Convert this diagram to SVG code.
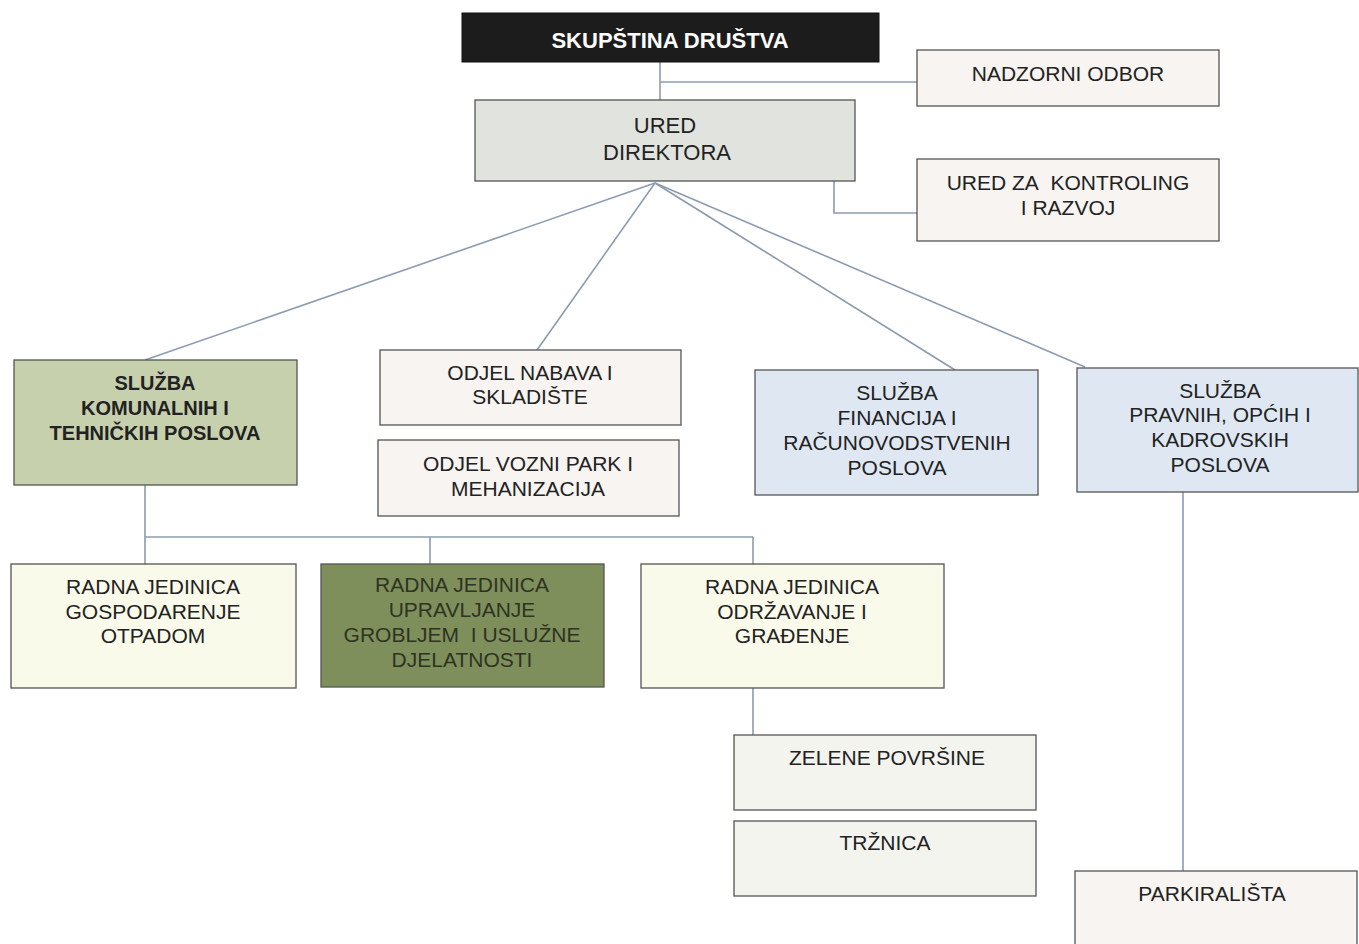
<svg xmlns="http://www.w3.org/2000/svg" width="1359" height="944" viewBox="0 0 1359 944">
<style>
  .box { stroke: #555; stroke-width: 1.3; }
  .w { fill: #f7f4f1; }
  .gray { fill: #e1e3de; }
  .olive { fill: #c7d0ad; }
  .dark { fill: #7e8f5c; }
  .blue { fill: #dfe8f2; }
  .cream { fill: #fafaea; }
  .pale { fill: #f4f4ef; }
  text { font-family: "Liberation Sans", Arial, sans-serif; font-size: 21px; fill: #222; text-anchor: middle; }
  .b { font-weight: bold; }
  .conn line, .conn polyline { stroke: #8c9bb0; stroke-width: 1.6; fill: none; }
</style>
<rect width="1359" height="944" fill="#ffffff"/>
<g class="conn" id="connectors">
  <line x1="660" y1="62" x2="660" y2="100"/>
  <line x1="660" y1="82" x2="917" y2="82"/>
  <polyline points="834,181 834,213 917,213"/>
  <line x1="655" y1="183" x2="145" y2="360"/>
  <line x1="655" y1="183" x2="537" y2="350"/>
  <line x1="655" y1="183" x2="955" y2="370"/>
  <line x1="655" y1="183" x2="1085" y2="367"/>
  <line x1="145" y1="485" x2="145" y2="564"/>
  <line x1="145" y1="537" x2="753" y2="537"/>
  <line x1="430" y1="537" x2="430" y2="564"/>
  <line x1="753" y1="537" x2="753" y2="564"/>
  <line x1="753" y1="688" x2="753" y2="735"/>
  <line x1="1183" y1="492" x2="1183" y2="871"/>
</g>
<g id="skupstina">
  <rect x="462" y="13" width="417" height="49" fill="#1c1c1c" stroke="#111"/>
  <text x="670" y="48" class="b" style="fill:#fff;font-size:22px">SKUPŠTINA DRUŠTVA</text>
</g>
<g id="nadzorni">
  <rect class="box w" x="917" y="50" width="302" height="56"/>
  <text x="1068" y="81">NADZORNI ODBOR</text>
</g>
<g id="ured-direktora">
  <rect class="box gray" x="475" y="100" width="380" height="81"/>
  <text x="665" y="133" style="font-size:22px">URED</text>
  <text x="667" y="160" style="font-size:22px">DIREKTORA</text>
</g>
<g id="kontroling">
  <rect class="box w" x="917" y="159" width="302" height="82"/>
  <text x="1068" y="190">URED ZA&#160; KONTROLING</text>
  <text x="1068" y="215">I RAZVOJ</text>
</g>
<g id="komunalni">
  <rect class="box olive" x="14" y="360" width="283" height="125"/>
  <text x="155" y="390" class="b" style="font-size:20px">SLUŽBA</text>
  <text x="155" y="415" class="b" style="font-size:20px">KOMUNALNIH I</text>
  <text x="155" y="440" class="b" style="font-size:20px">TEHNIČKIH POSLOVA</text>
</g>
<g id="nabava">
  <rect class="box w" x="380" y="350" width="301" height="75"/>
  <text x="530" y="380">ODJEL NABAVA I</text>
  <text x="530" y="404">SKLADIŠTE</text>
</g>
<g id="vozni-park">
  <rect class="box w" x="378" y="440" width="301" height="76"/>
  <text x="528" y="471">ODJEL VOZNI PARK I</text>
  <text x="528" y="496">MEHANIZACIJA</text>
</g>
<g id="financije">
  <rect class="box blue" x="755" y="370" width="283" height="125"/>
  <text x="897" y="400">SLUŽBA</text>
  <text x="897" y="425">FINANCIJA I</text>
  <text x="897" y="450">RAČUNOVODSTVENIH</text>
  <text x="897" y="475">POSLOVA</text>
</g>
<g id="pravni">
  <rect class="box blue" x="1077" y="368" width="281" height="124"/>
  <text x="1220" y="398">SLUŽBA</text>
  <text x="1220" y="422">PRAVNIH, OPĆIH I</text>
  <text x="1220" y="447">KADROVSKIH</text>
  <text x="1220" y="472">POSLOVA</text>
</g>
<g id="gospodarenje">
  <rect class="box cream" x="11" y="564" width="285" height="124"/>
  <text x="153" y="594">RADNA JEDINICA</text>
  <text x="153" y="619">GOSPODARENJE</text>
  <text x="153" y="643">OTPADOM</text>
</g>
<g id="upravljanje">
  <rect class="box dark" x="321" y="564" width="283" height="123"/>
  <text x="462" y="592" style="fill:#2e3322">RADNA JEDINICA</text>
  <text x="462" y="617" style="fill:#2e3322">UPRAVLJANJE</text>
  <text x="462" y="642" style="fill:#2e3322">GROBLJEM&#160; I USLUŽNE</text>
  <text x="462" y="667" style="fill:#2e3322">DJELATNOSTI</text>
</g>
<g id="odrzavanje">
  <rect class="box cream" x="641" y="564" width="303" height="124"/>
  <text x="792" y="594">RADNA JEDINICA</text>
  <text x="792" y="619">ODRŽAVANJE I</text>
  <text x="792" y="643">GRAĐENJE</text>
</g>
<g id="zelene">
  <rect class="box pale" x="734" y="735" width="302" height="75"/>
  <text x="887" y="765">ZELENE POVRŠINE</text>
</g>
<g id="trznica">
  <rect class="box pale" x="734" y="821" width="302" height="75"/>
  <text x="885" y="850">TRŽNICA</text>
</g>
<g id="parkiralista">
  <rect class="box w" x="1075" y="871" width="282" height="80"/>
  <text x="1212" y="901">PARKIRALIŠTA</text>
</g>
</svg>
